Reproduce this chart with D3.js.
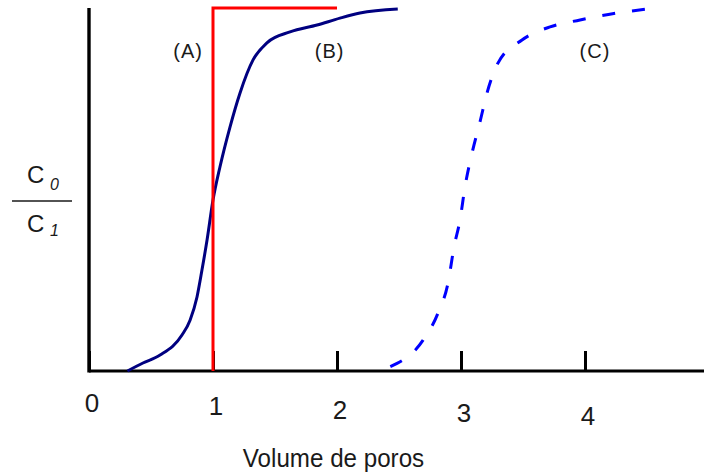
<!DOCTYPE html>
<html>
<head>
<meta charset="utf-8">
<script src="https://cdn.jsdelivr.net/npm/d3@7"></script>
<style>
  html, body { margin: 0; padding: 0; background: #fff; }
  svg { display: block; }
  text { font-family: "Liberation Sans", Arial, sans-serif; fill: #1a1a1a; }
</style>
</head>
<body>
<svg id="chart" width="704" height="474"></svg>
<script>
// Pore volumes on the x axis, relative concentration on the y axis
const xTicks = [0, 1, 2, 3, 4];
const curveLabels = ["(A)", "(B)", "(C)"];
const labelAt = [[0.8, 0.88], [1.94, 0.88], [4.08, 0.88]];

// (A) ideal piston displacement: a step at one pore volume
const stepX = [1, 1, 2];
const stepY = [0, 1, 1];

// (B) breakthrough curve centred on one pore volume
const curveBX = [0.31, 0.435, 0.573, 0.75, 0.815, 0.871, 0.911, 0.952, 1.0, 1.056, 1.137, 1.218, 1.323, 1.435, 1.621, 1.839, 2.024, 2.185, 2.49];
const curveBY = [0.0, 0.022, 0.044, 0.099, 0.14, 0.204, 0.278, 0.361, 0.471, 0.562, 0.672, 0.766, 0.857, 0.904, 0.934, 0.953, 0.972, 0.986, 0.997];

// (C) retarded breakthrough curve centred near three pore volumes
const curveCX = [2.43, 2.694, 2.815, 2.895, 2.944, 2.992, 3.032, 3.089, 3.153, 3.21, 3.298, 3.492, 3.718, 3.96, 4.2, 4.5];
const curveCY = [0.012, 0.085, 0.16, 0.242, 0.342, 0.416, 0.507, 0.6, 0.686, 0.766, 0.848, 0.912, 0.948, 0.967, 0.983, 0.997];

const svg = d3.select("#chart");
const x = d3.scaleLinear().domain([0, 4]).range([89, 585]);
const y = d3.scaleLinear().domain([0, 1]).range([371, 8]);

const zip = (xs, ys) => xs.map((v, i) => [v, ys[i]]);
const line = d3.line().x(d => x(d[0])).y(d => y(d[1]));
const smooth = d3.line().x(d => x(d[0])).y(d => y(d[1])).curve(d3.curveMonotoneX);

// horizontally squeezed / vertically stretched text helper
function label(g, txt, cx, baseline, size, sx, sy, anchor) {
  return g.append("text")
    .attr("transform", `translate(${cx},${baseline}) scale(${sx},${sy})`)
    .attr("text-anchor", anchor || "middle")
    .attr("font-size", size)
    .text(txt);
}

// axes
const xAxis = d3.axisBottom(x).tickValues(xTicks).tickSize(-20).tickFormat("");
const gx = svg.append("g").attr("transform", `translate(0,${y(0)})`).call(xAxis);
gx.select(".domain").remove();
gx.selectAll(".tick line").attr("stroke", "#000").attr("stroke-width", 3);

svg.append("line")
  .attr("x1", x(0)).attr("x2", 704)
  .attr("y1", y(0)).attr("y2", y(0))
  .attr("stroke", "#000").attr("stroke-width", 3.2);
svg.append("line")
  .attr("x1", x(0)).attr("x2", x(0))
  .attr("y1", y(1)).attr("y2", y(0) + 1.6)
  .attr("stroke", "#000").attr("stroke-width", 3.4);

// tick labels
xTicks.forEach((t, i) => {
  label(svg, String(t), x(t) + 3, 412 + 3.3 * i, 26, 1, 1);
});

// curves
svg.append("path")
  .attr("d", smooth(zip(curveBX, curveBY)))
  .attr("fill", "none").attr("stroke", "#000080").attr("stroke-width", 3);

svg.append("path")
  .attr("d", smooth(zip(curveCX, curveCY)))
  .attr("fill", "none").attr("stroke", "#0000ff").attr("stroke-width", 3)
  .attr("stroke-dasharray", "13,17");

svg.append("path")
  .attr("d", line(zip(stepX, stepY)))
  .attr("fill", "none").attr("stroke", "#ff0000").attr("stroke-width", 3)
  .attr("stroke-linejoin", "miter");

// curve labels
curveLabels.forEach((t, i) => {
  label(svg, t, x(labelAt[i][0]), y(labelAt[i][1]) + 6, 20, 1, 1.05)
    .attr("letter-spacing", 1);
});

// x axis title
label(svg, "Volume de poros", 333.5, 467, 26, 0.93, 1);

// y axis title: C0 / C1
const yTitle = svg.append("g");
const numer = yTitle.append("text").attr("x", 27).attr("y", 183).attr("font-size", 24);
numer.append("tspan").text("C");
numer.append("tspan").attr("x", 50).attr("y", 190).attr("font-size", 16).attr("font-style", "italic").text("0");
yTitle.append("line")
  .attr("x1", 12).attr("x2", 72).attr("y1", 201).attr("y2", 201)
  .attr("stroke", "#1a1a1a").attr("stroke-width", 1.6);
const denom = yTitle.append("text").attr("x", 27).attr("y", 232).attr("font-size", 24);
denom.append("tspan").text("C");
denom.append("tspan").attr("x", 50).attr("y", 236).attr("font-size", 16).attr("font-style", "italic").text("1");
</script>
</body>
</html>
